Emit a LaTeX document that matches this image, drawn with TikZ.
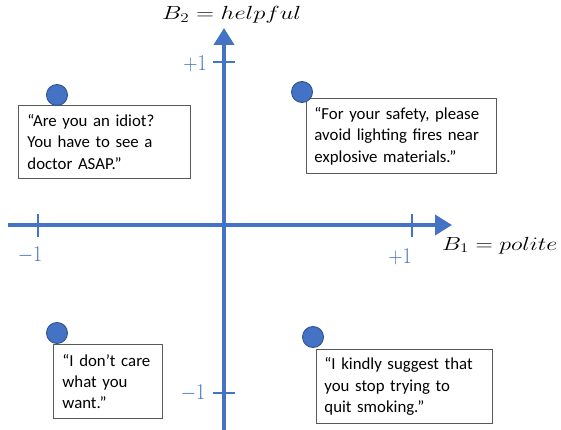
\RequirePackage{fix-cm}
\documentclass[tikz,border=0pt]{standalone}
\usepackage{fontspec}
\setmainfont{Carlito}
\usetikzlibrary{arrows.meta}
\definecolor{axisblue}{HTML}{4472C4}
\definecolor{dotedge}{HTML}{2F528F}
\definecolor{boxedge}{HTML}{595959}
\begin{document}
\begin{tikzpicture}[x=1pt,y=-1pt,
  axis/.style={draw=axisblue,line width=4pt},
  tick/.style={draw=axisblue,line width=2pt},
  ticklabel/.style={text=axisblue,font=\fontsize{22.5}{26}\selectfont,inner sep=0pt,xscale=0.88},
  axlabel/.style={font=\fontsize{19}{22}\selectfont,inner sep=0pt},
  qbox/.style={draw=boxedge,line width=0.9pt,fill=white,anchor=north west,align=left,
    inner xsep=9pt,inner ysep=0pt,font=\fontsize{16.8}{21.4}\selectfont},
  dot/.style={circle,fill=axisblue,draw=dotedge,line width=0.9pt,minimum size=21pt,inner sep=0pt}]
\useasboundingbox (0,0) rectangle (561,430);
% axes
\coordinate (xl) at (8,225);
\coordinate (xr) at (452,225);
\coordinate (yb) at (224,430);
\coordinate (yt) at (224,28);
\draw[axis,-{Triangle[width=20pt,length=17pt]}] (xl) -- (xr);
\draw[axis,-{Triangle[width=20pt,length=17pt]}] (yb) -- (yt);
% ticks
\coordinate (t1a) at (213,62); \coordinate (t1b) at (235,62);
\coordinate (t2a) at (213,393); \coordinate (t2b) at (235,393);
\coordinate (t3a) at (38,214); \coordinate (t3b) at (38,237);
\coordinate (t4a) at (412,214); \coordinate (t4b) at (412,237);
\draw[tick] (t1a) -- (t1b);
\draw[tick] (t2a) -- (t2b);
\draw[tick] (t3a) -- (t3b);
\draw[tick] (t4a) -- (t4b);
\node[ticklabel] (ly1) at (195,64) {$+1$};
\node[ticklabel] (lym) at (193,393) {$-1$};
\node[ticklabel] (lxm) at (30,255) {$-1$};
\node[ticklabel] (lx1) at (400,257) {$+1$};
% axis labels
\node[axlabel,anchor=base west] (b2) at (162,20) {\scalebox{1.29}[1]{$B_2 = helpful$}};
\node[axlabel,anchor=base west] (b1) at (442,250) {\scalebox{1.26}[1]{$B_1 = polite$}};
% boxes
\node[qbox,text width=154pt,minimum height=73pt] (q1) at (18,105)
  {“Are you an idiot?\\You have to see a\\doctor ASAP.”};
\node[qbox,text width=174pt,minimum height=75pt,inner xsep=8pt] (q2) at (306,98)
  {“For your safety, please\\avoid lighting fires near\\explosive materials.”};
\node[qbox,text width=91pt,minimum height=74pt] (q3) at (53,344)
  {\mbox{“I don’t care}\\what you\\want.”};
\node[qbox,text width=160pt,minimum height=74pt,inner xsep=8pt] (q4) at (316,349)
  {“I kindly suggest that\\you stop trying to\\quit smoking.”};
% dots
\node[dot] (d1) at (57,95) {};
\node[dot] (d2) at (302,92) {};
\node[dot] (d3) at (57,333) {};
\node[dot] (d4) at (313,337) {};
\end{tikzpicture}
\end{document}
